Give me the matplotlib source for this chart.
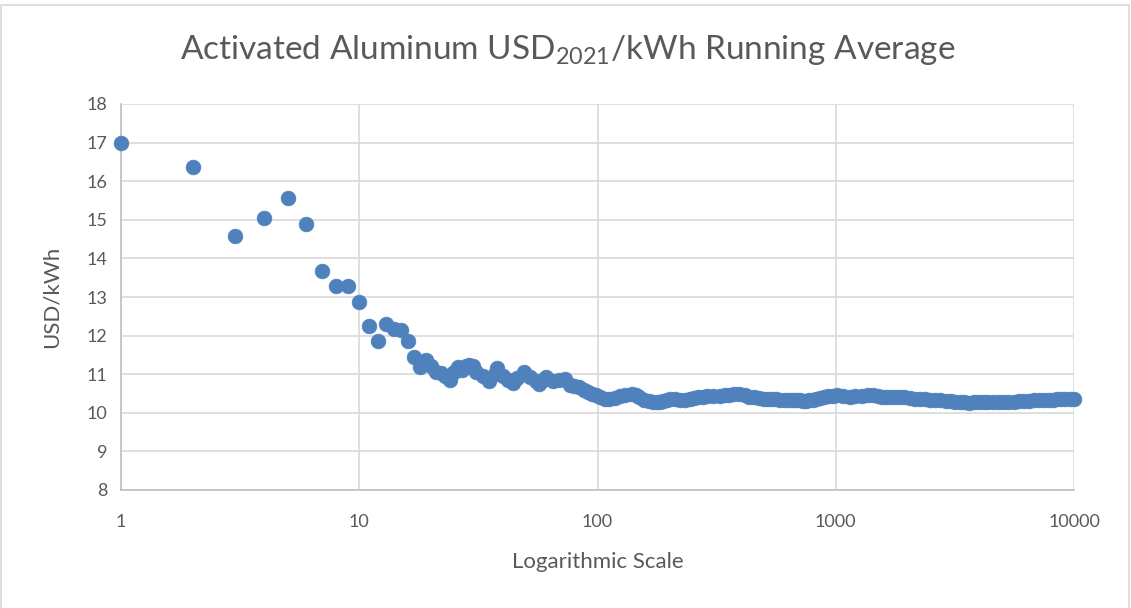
import matplotlib
matplotlib.use("Agg")
import matplotlib.pyplot as plt
from matplotlib.patches import Rectangle
from matplotlib.ticker import FixedLocator, FixedFormatter, NullLocator

plt.rcParams['font.family'] = ['Lato', 'DejaVu Sans']

# Sample count (x) and running average USD/kWh (y)
trials = [1, 2, 3, 4, 5, 6, 7, 8, 9, 10,
          11, 12, 13, 14, 15, 16, 17, 18, 19, 20,
          21, 22, 23, 24, 25, 26, 27, 28, 29, 30,
          31, 33, 35, 37, 38, 40, 42, 44, 46, 49,
          52, 55, 57, 59, 61, 65, 69, 73, 77, 80,
          84, 88, 91, 95, 99, 102, 107, 112, 118, 124,
          131, 139, 145, 150, 157, 165, 171, 177, 183, 189,
          196, 202, 212, 222, 234, 245, 255, 265, 276, 287,
          305, 326, 342, 358, 375, 394, 414, 434, 455, 477,
          498, 520, 540, 560, 585, 610, 635, 659, 680, 705,
          730, 752, 775, 800, 827, 856, 890, 930, 970, 1010,
          1070, 1146, 1210, 1290, 1360, 1436, 1500, 1560, 1630, 1696,
          1780, 1860, 1937, 2040, 2150, 2260, 2370, 2490, 2620, 2750,
          2897, 3050, 3180, 3310, 3470, 3636, 3800, 3960, 4134, 4330,
          4550, 4780, 5030, 5300, 5600, 5900, 6170, 6450, 6800, 7150,
          7500, 7880, 8200, 8500, 8850, 9200, 9600, 10000]
usd_per_kwh = [16.98, 16.38, 14.58, 15.04, 15.57, 14.88, 13.68, 13.29, 13.29, 12.88,
               12.26, 11.86, 12.30, 12.16, 12.15, 11.86, 11.45, 11.18, 11.36, 11.22,
               11.05, 11.02, 10.95, 10.85, 11.05, 11.18, 11.10, 11.20, 11.25, 11.22,
               11.05, 10.95, 10.83, 11.00, 11.15, 10.95, 10.85, 10.78, 10.90, 11.05,
               10.92, 10.82, 10.74, 10.85, 10.92, 10.82, 10.84, 10.88, 10.72, 10.70,
               10.68, 10.60, 10.55, 10.48, 10.45, 10.41, 10.37, 10.35, 10.38, 10.43,
               10.47, 10.50, 10.46, 10.40, 10.34, 10.30, 10.28, 10.27, 10.28, 10.30,
               10.33, 10.35, 10.35, 10.33, 10.34, 10.35, 10.38, 10.40, 10.42, 10.44,
               10.44, 10.43, 10.45, 10.46, 10.48, 10.50, 10.46, 10.42, 10.40, 10.38,
               10.37, 10.36, 10.35, 10.35, 10.34, 10.34, 10.33, 10.33, 10.32, 10.32,
               10.31, 10.30, 10.32, 10.34, 10.36, 10.38, 10.41, 10.43, 10.44, 10.45,
               10.44, 10.42, 10.43, 10.44, 10.45, 10.45, 10.44, 10.42, 10.41, 10.40,
               10.40, 10.40, 10.40, 10.39, 10.37, 10.36, 10.35, 10.34, 10.33, 10.32,
               10.31, 10.30, 10.29, 10.28, 10.27, 10.26, 10.27, 10.28, 10.28, 10.28,
               10.28, 10.28, 10.28, 10.29, 10.29, 10.30, 10.30, 10.31, 10.32, 10.33,
               10.33, 10.34, 10.34, 10.35, 10.35, 10.36, 10.36, 10.37]

x_ticks = [1, 10, 100, 1000, 10000]
x_tick_labels = ["1", "10", "100", "1000", "10000"]
y_ticks = list(range(8, 19))

W, H = 1131, 608
fig = plt.figure(figsize=(W / 100, H / 100), dpi=100)
fig.patch.set_facecolor("white")

# chart-area border
fig.patches.append(Rectangle((1 / W, -0.01), (W - 3) / W, 1 - 5 / H + 0.01,
                             transform=fig.transFigure, fill=False,
                             edgecolor="#D9D9D9", linewidth=1.2))

ax = fig.add_axes([121 / W, 1 - 490 / H, (1074 - 121) / W, (490 - 104) / H])
ax.set_xscale("log")
ax.set_xlim(1, 10000)
ax.set_ylim(8, 18)

ax.plot(trials, usd_per_kwh, linestyle="none", marker="o", markersize=10.6,
        markerfacecolor="#4F81BD", markeredgecolor="#4F81BD", markeredgewidth=0.5,
        clip_on=False, zorder=3)

text_col = "#595959"
grid_col = "#D9D9D9"
ax.xaxis.set_major_locator(FixedLocator(x_ticks))
ax.xaxis.set_major_formatter(FixedFormatter(x_tick_labels))
ax.xaxis.set_minor_locator(NullLocator())
ax.set_yticks(y_ticks)
ax.grid(True, which="major", color=grid_col, linewidth=1.2)
ax.set_axisbelow(True)
for s in ["top", "right"]:
    ax.spines[s].set_visible(False)
for s in ["left", "bottom"]:
    ax.spines[s].set_color("#BFBFBF")
    ax.spines[s].set_linewidth(1.2)
ax.tick_params(axis="both", length=0, labelsize=13, colors=text_col)
ax.tick_params(axis="x", pad=17)
ax.tick_params(axis="y", pad=10)

ax.set_xlabel("Logarithmic Scale", fontsize=16, color=text_col, labelpad=16)
ax.set_ylabel("USD/kWh", fontsize=16, color=text_col, labelpad=18)

fig.text(567.5 / W, 1 - 50 / H,
         r"Activated Aluminum USD$_{\mathregular{2021}}$/kWh Running Average",
         ha="center", va="center", fontsize=24, color=text_col)

fig.savefig("out.png", dpi=100)
